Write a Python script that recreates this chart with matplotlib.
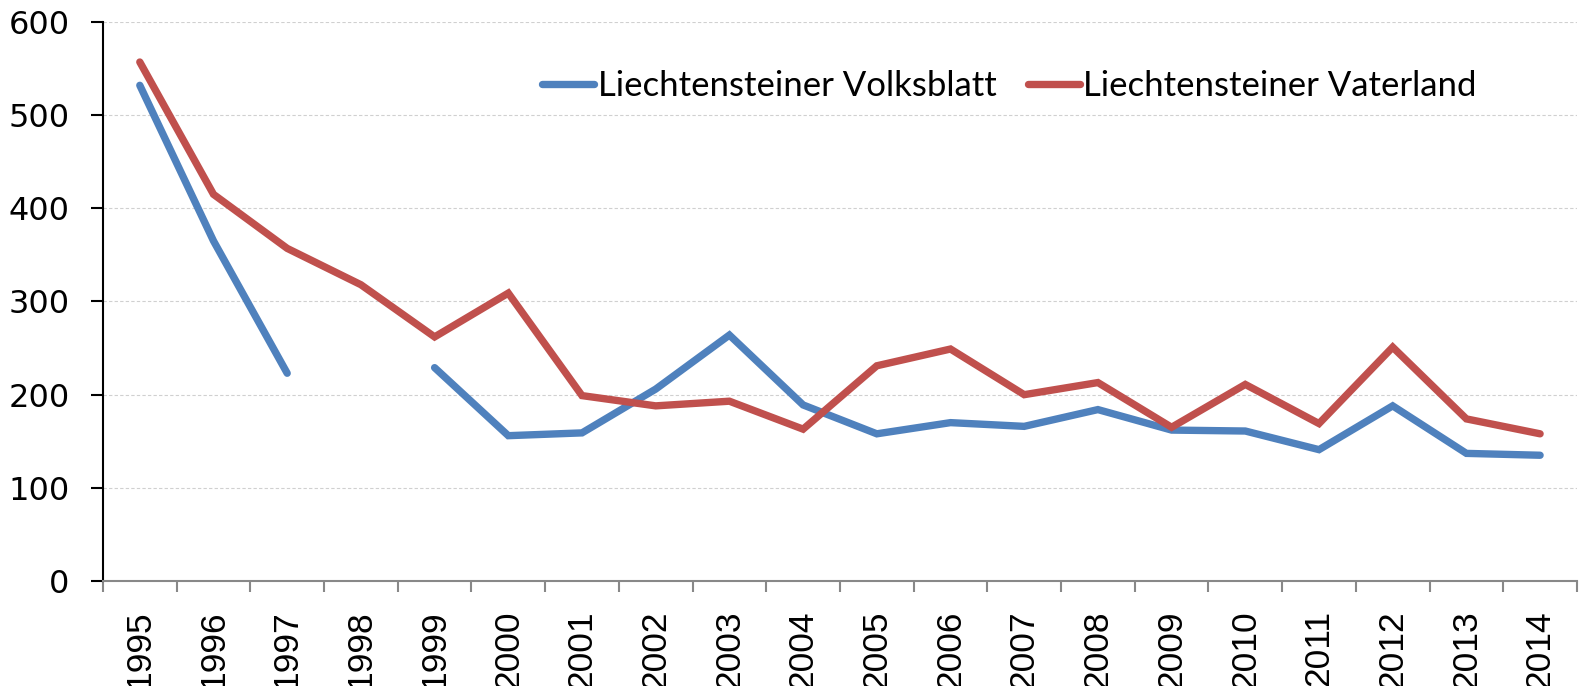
import numpy as np
import matplotlib
matplotlib.use("Agg")
import matplotlib.pyplot as plt

# data
years = [str(y) for y in range(1995, 2015)]
volksblatt = [532, 365, 223, np.nan, 229, 156, 159, 206, 264, 189,
              158, 170, 166, 184, 162, 161, 141, 188, 137, 135]
vaterland = [557, 415, 357, 318, 262, 309, 199, 188, 193, 163,
             231, 249, 200, 213, 165, 211, 169, 251, 174, 158]

blue = "#4F81BD"
red = "#C0504D"

fig = plt.figure(figsize=(15.79, 6.86), dpi=100)
ax = fig.add_axes([0.0652, 0.153, 0.9335, 0.815])

x = np.arange(len(years))
ax.plot(x, volksblatt, color=blue, lw=5.3, solid_capstyle="round",
        solid_joinstyle="miter", label="Liechtensteiner Volksblatt")
ax.plot(x, vaterland, color=red, lw=5.3, solid_capstyle="round",
        solid_joinstyle="miter", label="Liechtensteiner Vaterland")

# axes limits and ticks
ax.set_xlim(-0.5, len(years) - 0.5)
ax.set_ylim(0, 600)
ax.set_yticks(range(0, 601, 100))
ax.set_xticks(x)
ax.set_xticklabels(years, rotation=90, fontfamily="Liberation Sans", fontsize=25.5)
ax.set_xticks(np.arange(-0.5, len(years), 1), minor=True)
ax.tick_params(axis="x", which="major", length=0, pad=21)
ax.tick_params(axis="x", which="minor", length=8, width=1.5, color="#888888")
ax.tick_params(axis="y", length=9, width=1.5, labelsize=23, pad=15)
for lab in ax.get_yticklabels():
    lab.set_fontfamily("DejaVu Sans")

# grid and spines
ax.grid(axis="y", color="#d0d0d0", ls=(0, (3, 2)), lw=0.8)
ax.set_axisbelow(True)
for s in ["top", "right"]:
    ax.spines[s].set_visible(False)
ax.spines["left"].set_linewidth(1.5)
ax.spines["bottom"].set_color("#888888")
ax.spines["bottom"].set_linewidth(1.5)

leg = ax.legend(loc="center", bbox_to_anchor=(0.615, 0.885), ncol=2,
                frameon=False, handlelength=1.5, handletextpad=0.1,
                columnspacing=0.9, prop={"family": "Lato", "size": 25})

fig.savefig("out.png", dpi=100)
